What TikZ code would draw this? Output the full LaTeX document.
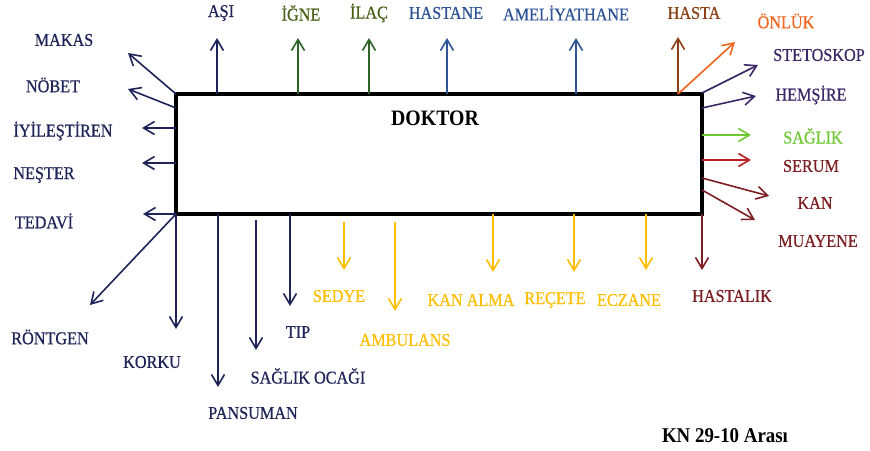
\documentclass[tikz,border=0pt]{standalone}
\usepackage{fontspec}
\setmainfont{Liberation Serif}[FakeStretch=0.9]
\newfontfamily\labelfont{Liberation Serif}[FakeStretch=0.9,FakeBold=0.6]
\usetikzlibrary{arrows.meta}

\definecolor{cNavy}{RGB}{30,36,88}
\definecolor{cGreen}{RGB}{44,100,40}
\definecolor{cOliveTxt}{RGB}{70,95,20}
\definecolor{cSteel}{RGB}{47,84,150}
\definecolor{cRust}{RGB}{140,65,20}
\definecolor{cOrange}{RGB}{240,100,30}
\definecolor{cPlum}{RGB}{60,40,105}
\definecolor{cLime}{RGB}{110,200,50}
\definecolor{cCrimson}{RGB}{190,30,35}
\definecolor{cMaroon}{RGB}{125,30,35}
\definecolor{cGold}{RGB}{255,190,0}

\tikzset{
  lbl/.style={font=\labelfont\fontsize{18}{21}\selectfont, inner sep=0pt},
  arr/.style={line width=1.6pt,
    -{Straight Barb[length=11pt,width=13pt,line width=1.6pt]}},
  frame/.style={draw=black, line width=4pt, inner sep=0pt, outer sep=0pt,
    minimum width=526pt, minimum height=120pt}
}

\begin{document}
\begin{tikzpicture}[x=1pt,y=-1pt]
\useasboundingbox (0,0) rectangle (870,450);

% central box
\node[frame] (doktor) at (439,154) {};
\node[inner sep=0pt, font=\fontsize{22}{26}\selectfont\bfseries] (title) at (435,118) {DOKTOR};

% labels above
\node[lbl, text=cNavy]     (asi)   at (221,13) {AŞI};
\node[lbl, text=cOliveTxt] (igne)  at (301,13) {İĞNE};
\node[lbl, text=cOliveTxt] (ilac)  at (369,13) {İLAÇ};
\node[lbl, text=cSteel]    (hastane) at (446,13) {HASTANE};
\node[lbl, text=cSteel]    (ameliyat) at (566,13) {AMELİYATHANE};
\node[lbl, text=cRust]     (hasta) at (694,13) {HASTA};

% labels on the right
\node[lbl, text=cOrange]  (onluk)  at (786,21) {ÖNLÜK};
\node[lbl, text=cPlum]    (steto)  at (819,55) {STETOSKOP};
\node[lbl, text=cPlum]    (hemsire) at (811,95) {HEMŞİRE};
\node[lbl, text=cLime]    (saglik) at (813,136) {SAĞLIK};
\node[lbl, text=cMaroon]  (serum)  at (811,166) {SERUM};
\node[lbl, text=cMaroon]  (kan)    at (815,203) {KAN};
\node[lbl, text=cMaroon]  (muayene) at (818,241) {MUAYENE};

% labels on the left
\node[lbl, text=cNavy] (makas)  at (64,40)  {MAKAS};
\node[lbl, text=cNavy] (nobet)  at (53,85)  {NÖBET};
\node[lbl, text=cNavy] (iyiles) at (63,131) {İYİLEŞTİREN};
\node[lbl, text=cNavy] (nester) at (44,175) {NEŞTER};
\node[lbl, text=cNavy] (tedavi) at (44,221) {TEDAVİ};

% labels below
\node[lbl, text=cNavy] (rontgen)  at (50,337)  {RÖNTGEN};
\node[lbl, text=cNavy] (korku)    at (152,362) {KORKU};
\node[lbl, text=cNavy] (pansuman) at (253,413) {PANSUMAN};
\node[lbl, text=cNavy] (ocagi)    at (308,376) {SAĞLIK OCAĞI};
\node[lbl, text=cNavy] (tip)      at (298,332) {TIP};
\node[lbl, text=cGold] (sedye)    at (339,296) {SEDYE};
\node[lbl, text=cGold] (ambulans) at (405,340) {AMBULANS};
\node[lbl, text=cGold] (kanalma)  at (471,300) {KAN ALMA};
\node[lbl, text=cGold] (recete)   at (555,300) {REÇETE};
\node[lbl, text=cGold] (eczane)   at (629,300) {ECZANE};
\node[lbl, text=cMaroon] (hastalik) at (732,296) {HASTALIK};

\node[inner sep=0pt, font=\fontsize{21}{25}\selectfont\bfseries] (kn) at (725,436) {KN 29-10 Arası};

% arrow end points
\coordinate (tAsi) at (217,38);
\coordinate (tIgne) at (298,38);
\coordinate (tIlac) at (369,38);
\coordinate (tHastane) at (447,38);
\coordinate (tAmel) at (576,38);
\coordinate (tHasta) at (678,37);
\coordinate (tOnluk) at (735,42);
\coordinate (tSteto) at (758,65);
\coordinate (tHemsire) at (756,96);
\coordinate (tSaglik) at (751,135);
\coordinate (tSerum) at (751,160);
\coordinate (tKan) at (769,196);
\coordinate (tMuayene) at (755,220);
\coordinate (tMakas) at (128,53);
\coordinate (tNobet) at (128,89);
\coordinate (tIyiles) at (142,128);
\coordinate (tNester) at (142,163);
\coordinate (tTedavi) at (143,214);
\coordinate (tRontgen) at (90,305);
\coordinate (tKorku) at (176,329);
\coordinate (tPansuman) at (218,387);
\coordinate (tOcagi) at (256,350);
\coordinate (tTip) at (290,306);
\coordinate (tSedye) at (344,270);
\coordinate (tAmbulans) at (395,311);
\coordinate (tKanalma) at (493,272);
\coordinate (tRecete) at (574,272);
\coordinate (tEczane) at (646,270);
\coordinate (tHastalik) at (702,270);

% arrow start points on the box
\coordinate (sOnluk) at (678,94);
\coordinate (sSteto) at (702,93);
\coordinate (sHemsire) at (702,108);
\coordinate (sSaglik) at (702,135);
\coordinate (sSerum) at (702,160);
\coordinate (sKan) at (702,178);
\coordinate (sMuayene) at (702,190);
\coordinate (sMakas) at (176,94);
\coordinate (sNobet) at (176,108);
\coordinate (sIyiles) at (176,128);
\coordinate (sNester) at (176,163);
\coordinate (sTedavi) at (176,214);
\coordinate (sRontgen) at (176,214);

% upward arrows
\draw[arr, cNavy]  (doktor.north -| tAsi) -- (tAsi);
\draw[arr, cGreen] (doktor.north -| tIgne) -- (tIgne);
\draw[arr, cGreen] (doktor.north -| tIlac) -- (tIlac);
\draw[arr, cSteel] (doktor.north -| tHastane) -- (tHastane);
\draw[arr, cSteel] (doktor.north -| tAmel) -- (tAmel);
\draw[arr, cRust]  (doktor.north -| tHasta) -- (tHasta);

% right-hand arrows
\draw[arr, cOrange]  (sOnluk) -- (tOnluk);
\draw[arr, cPlum]    (sSteto) -- (tSteto);
\draw[arr, cPlum]    (sHemsire) -- (tHemsire);
\draw[arr, cLime]    (sSaglik) -- (tSaglik);
\draw[arr, cCrimson] (sSerum) -- (tSerum);
\draw[arr, cMaroon]  (sKan) -- (tKan);
\draw[arr, cMaroon]  (sMuayene) -- (tMuayene);

% left-hand arrows
\draw[arr, cNavy] (sMakas) -- (tMakas);
\draw[arr, cNavy] (sNobet) -- (tNobet);
\draw[arr, cNavy] (sIyiles) -- (tIyiles);
\draw[arr, cNavy] (sNester) -- (tNester);
\draw[arr, cNavy] (sTedavi) -- (tTedavi);

% downward arrows
\draw[arr, cNavy] (sRontgen) -- (tRontgen);
\draw[arr, cNavy] (doktor.south -| tKorku) -- (tKorku);
\draw[arr, cNavy] (doktor.south -| tPansuman) -- (tPansuman);
\draw[arr, cNavy] ([yshift=-6pt]doktor.south -| tOcagi) -- (tOcagi);
\draw[arr, cNavy] (doktor.south -| tTip) -- (tTip);
\draw[arr, cGold] ([yshift=-8pt]doktor.south -| tSedye) -- (tSedye);
\draw[arr, cGold] ([yshift=-8pt]doktor.south -| tAmbulans) -- (tAmbulans);
\draw[arr, cGold] (doktor.south -| tKanalma) -- (tKanalma);
\draw[arr, cGold] (doktor.south -| tRecete) -- (tRecete);
\draw[arr, cGold] (doktor.south -| tEczane) -- (tEczane);
\draw[arr, cMaroon] (doktor.south -| tHastalik) -- (tHastalik);
\end{tikzpicture}
\end{document}
